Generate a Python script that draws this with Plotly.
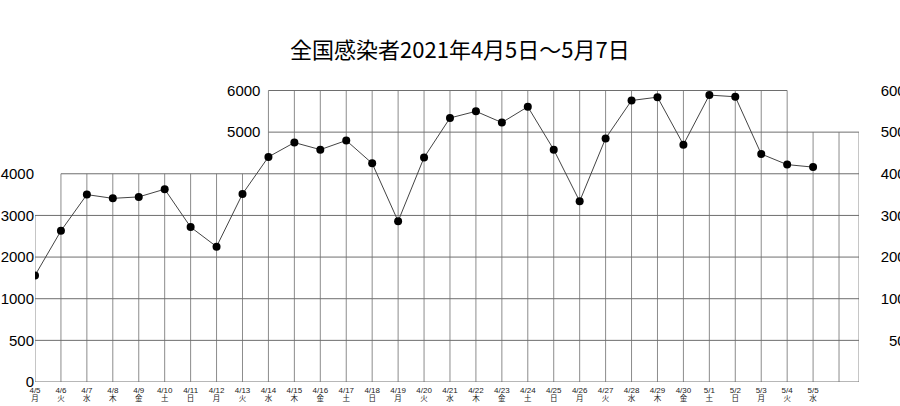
import numpy as np
import plotly.graph_objects as go

dates = ["4/5", "4/6", "4/7", "4/8", "4/9", "4/10", "4/11", "4/12", "4/13", "4/14",
         "4/15", "4/16", "4/17", "4/18", "4/19", "4/20", "4/21", "4/22", "4/23", "4/24",
         "4/25", "4/26", "4/27", "4/28", "4/29", "4/30", "5/1", "5/2", "5/3", "5/4", "5/5"]
weekdays = ["月", "火", "水", "木", "金", "土", "日", "月", "火", "水",
            "木", "金", "土", "日", "月", "火", "水", "木", "金", "土",
            "日", "月", "火", "水", "木", "金", "土", "日", "月", "火", "水"]
cases = [1560, 2630, 3500, 3410, 3445, 3630, 2720, 2250, 3515, 4405,
         4750, 4580, 4800, 4250, 2860, 4390, 5340, 5500, 5230, 5610,
         4580, 3340, 4850, 5760, 5840, 4700, 5890, 5850, 4475, 4220, 4160]
tick_values = [0, 500, 1000, 2000, 3000, 4000, 5000, 6000]
tick_labels = ["0", "500", "1000", "2000", "3000", "4000", "5000", "6000"]

levels = list(range(len(tick_values)))
ypos = np.interp(cases, tick_values, levels)
xidx = list(range(len(dates)))
XMAX = 31.77
YMAX = 7.06

fig = go.Figure()

# grid segments (layout decoration)
shapes = []
vcol = "#8c8c8c"
hcol = "#6e6e6e"
for i in range(len(dates) + 1):
    if i == 0:
        top = 4
    elif i <= 8:
        top = 5
    elif i <= 29:
        top = 7
    else:
        top = 6
    shapes.append(dict(type="line", xref="x", yref="y", x0=i, x1=i, y0=0, y1=top,
                       line=dict(color=vcol, width=1), layer="below"))
shapes.append(dict(type="line", xref="x", yref="y", x0=XMAX, x1=XMAX, y0=0, y1=6,
                   line=dict(color=vcol, width=1), layer="below"))
for lv in levels:
    if lv == 7:
        x0, x1 = 9, 29
    elif lv == 6:
        x0, x1 = 9, XMAX
    elif lv == 5:
        x0, x1 = 1, XMAX
    else:
        x0, x1 = 0, XMAX
    shapes.append(dict(type="line", xref="x", yref="y", x0=x0, x1=x1, y0=lv, y1=lv,
                       line=dict(color=hcol, width=1), layer="below"))

fig.add_trace(go.Scatter(
    x=xidx, y=ypos, mode="lines+markers",
    line=dict(color="#444444", width=1),
    marker=dict(color="black", size=8),
    hoverinfo="skip", showlegend=False))

# invisible traces to activate extra axes
fig.add_trace(go.Scatter(x=[0], y=[0], yaxis="y2", mode="markers",
                         marker=dict(opacity=0), showlegend=False, hoverinfo="skip"))
fig.add_trace(go.Scatter(x=[0], y=[0], yaxis="y3", mode="markers",
                         marker=dict(opacity=0), showlegend=False, hoverinfo="skip"))
fig.add_trace(go.Scatter(x=[0], y=[0], xaxis="x2", mode="markers",
                         marker=dict(opacity=0), showlegend=False, hoverinfo="skip"))

tickfont = dict(family="Liberation Sans, Arial, sans-serif", size=15, color="black")

fig.update_layout(
    width=900, height=406,
    margin=dict(l=35, r=41, t=88, b=24),
    paper_bgcolor="white", plot_bgcolor="white",
    hovermode=False,
    title=dict(text="全国感染者2021年4月5日～5月7日",
               font=dict(family="Noto Sans CJK JP", size=22, color="black"),
               x=0.511, xref="container", xanchor="center",
               y=1 - 50 / 406, yref="container", yanchor="middle"),
    xaxis=dict(range=[0, XMAX], tickvals=xidx, ticktext=dates,
               tickangle=0, showgrid=False, zeroline=False, showline=False,
               tickfont=dict(family="Liberation Sans, Arial, sans-serif", size=8, color="#222222"),
               ticks="", automargin=False, ticklabelstandoff=2),
    xaxis2=dict(range=[0, XMAX], overlaying="x", anchor="y", side="bottom",
                tickvals=xidx, ticktext=weekdays,
                tickangle=0, showgrid=False, zeroline=False, showline=False,
                tickfont=dict(family="Noto Sans CJK JP", size=7.5, color="#222222"),
                ticks="", automargin=False, ticklabelstandoff=10),
    yaxis=dict(range=[0, YMAX], tickvals=levels[:6], ticktext=tick_labels[:6],
               showgrid=False, zeroline=False, showline=False, ticks="",
               tickfont=tickfont, automargin=False),
    yaxis2=dict(range=[0, YMAX], overlaying="y", anchor="free", side="left",
                position=9 / XMAX, tickvals=levels[6:], ticktext=tick_labels[6:],
                showgrid=False, zeroline=False, showline=False, ticks="",
                ticklabelstandoff=8, tickfont=tickfont, automargin=False),
    yaxis3=dict(range=[0, YMAX], overlaying="y", anchor="free", side="left",
                position=1, tickvals=levels, ticktext=tick_labels,
                showgrid=False, zeroline=False, showline=False, ticks="",
                ticklabelstandoff=-55, tickfont=tickfont, automargin=False),
    shapes=shapes,
)

fig.write_html("out.html", config={"displayModeBar": False},
               post_script="document.body.style.margin='0';")
